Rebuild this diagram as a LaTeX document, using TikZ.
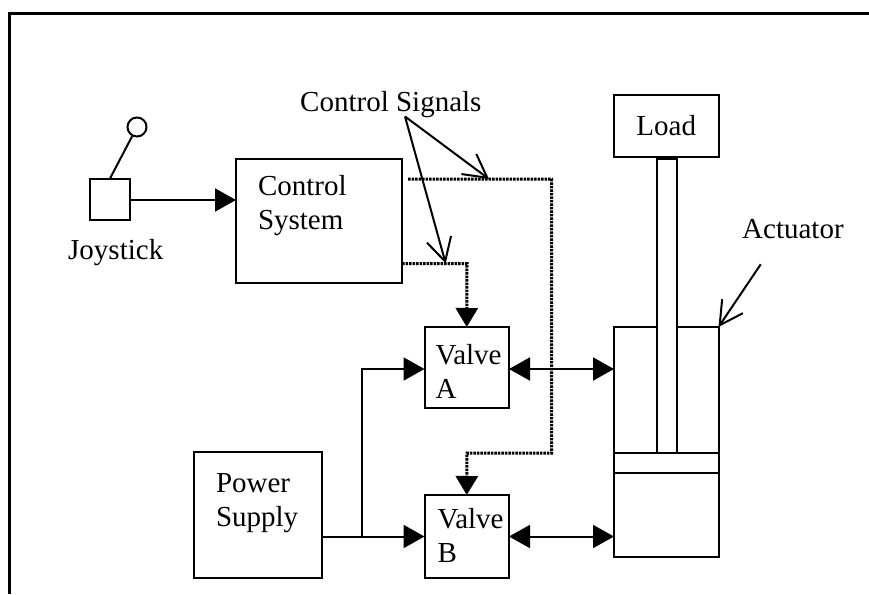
\documentclass[tikz,border=0pt]{standalone}
\usepackage{fontspec}
\setmainfont{Liberation Serif}
\usetikzlibrary{calc,arrows.meta}
\newcommand{\TwoLines}[3]{\hspace*{#1}#2\\\hspace*{#1}#3}
\tikzset{
  blockbox/.style={draw,line width=2pt,fill=white,inner sep=0pt,outer sep=0pt,anchor=north west,align=left},
  plaintext/.style={inner sep=0pt,anchor=base west},
  flow/.style={line width=2pt,-{Triangle[length=21pt,width=23pt]}},
  bothflow/.style={line width=2pt,{Triangle[length=21pt,width=23pt]}-{Triangle[length=21pt,width=23pt]}},
  signal/.style={line width=3pt,dash pattern=on 2.6pt off 0.9pt,-{Triangle[length=19pt,width=22pt]}},
  pointer/.style={line width=2pt,-{Straight Barb[length=23pt,width=25pt]}}
}
\begin{document}
\begin{tikzpicture}[x=1pt,y=-1pt,font=\fontsize{29}{34}\selectfont]
\useasboundingbox (0,0) rectangle (869,594);
\draw[line width=3pt] (9.5,594) -- (9.5,13.5) -- (869,13.5);

% joystick and control system
\node[blockbox,minimum width=40pt,minimum height=41pt] (joyBox) at (90,178.5) {};
\node[draw,circle,line width=2pt,inner sep=0pt,minimum size=19pt] (joyKnob) at (137,127) {};
\draw[line width=2pt] (joyBox.north) -- (joyKnob);
\node[plaintext] (joyLabel) at (68,259) {Joystick};
\node[blockbox,text width=166pt,text height=36.5pt,text depth=87.5pt] (control) at (236,159) {\TwoLines{22pt}{Control}{System}};
\draw[flow] ([yshift=-1pt]joyBox.east) -- ([yshift=-1pt]control.west |- joyBox.east);

% valves and power supply
\node[blockbox,text width=84.5pt,text height=37pt,text depth=44pt] (valveA) at (424.5,327) {\TwoLines{11pt}{Valve}{A}};
\node[blockbox,text width=84.5pt,text height=33pt,text depth=50pt] (valveB) at (424.5,495) {\TwoLines{13pt}{Valve}{B}};
\node[blockbox,text width=128pt,text height=40pt,text depth=86pt] (power) at (194,452) {\TwoLines{22pt}{Power}{Supply}};

% actuator with piston and rod
\node[blockbox,minimum width=104.5pt,minimum height=230pt] (actuator) at (614,327) {};
\node[blockbox,minimum width=104.5pt,minimum height=20pt] (piston) at (614,452.5) {};
\node[blockbox,minimum width=104.5pt,minimum height=62.5pt,align=center] (load) at (614,94.5) {\raisebox{0.5pt}{Load}};
\node[blockbox,minimum width=20pt,minimum height=294pt] (rod) at (656.7,158.5) {};
\node[plaintext] (signalLabel) at (300,111.5) {Control Signals};
\node[plaintext] (actuatorLabel) at (742,238) {Actuator};

% supply lines
\coordinate (tee) at (362,537);
\draw[flow] (power.east |- valveB.west) -- (valveB.west);
\draw[flow] (tee) |- ([yshift=-1.5pt]valveA.west);
\draw[bothflow] ([yshift=-1.5pt]valveA.east) -- ([yshift=-1.5pt]valveA.east -| actuator.west);
\draw[bothflow] (valveB.east) -- (valveB.east -| actuator.west);

% control signals
\coordinate (sigTop) at (408,179);
\coordinate (sigLow) at (402,263.5);
\coordinate (hitTop) at (489,179);
\coordinate (hitLow) at (445.7,263.5);
\coordinate (signalApex) at (405,116.5);
\coordinate (actuatorTail) at (760.7,264.3);
\draw[signal] (sigTop) -- (551.7,179) -- (551.7,453) -- (467,453) -- (valveB.north);
\draw[signal] (sigLow) -- (467,263.5) -- (valveA.north);
\draw[pointer] (signalApex) -- (hitTop);
\draw[pointer] (signalApex) -- (hitLow);
\draw[pointer] (actuatorTail) -- (actuator.north east);
\end{tikzpicture}
\end{document}
